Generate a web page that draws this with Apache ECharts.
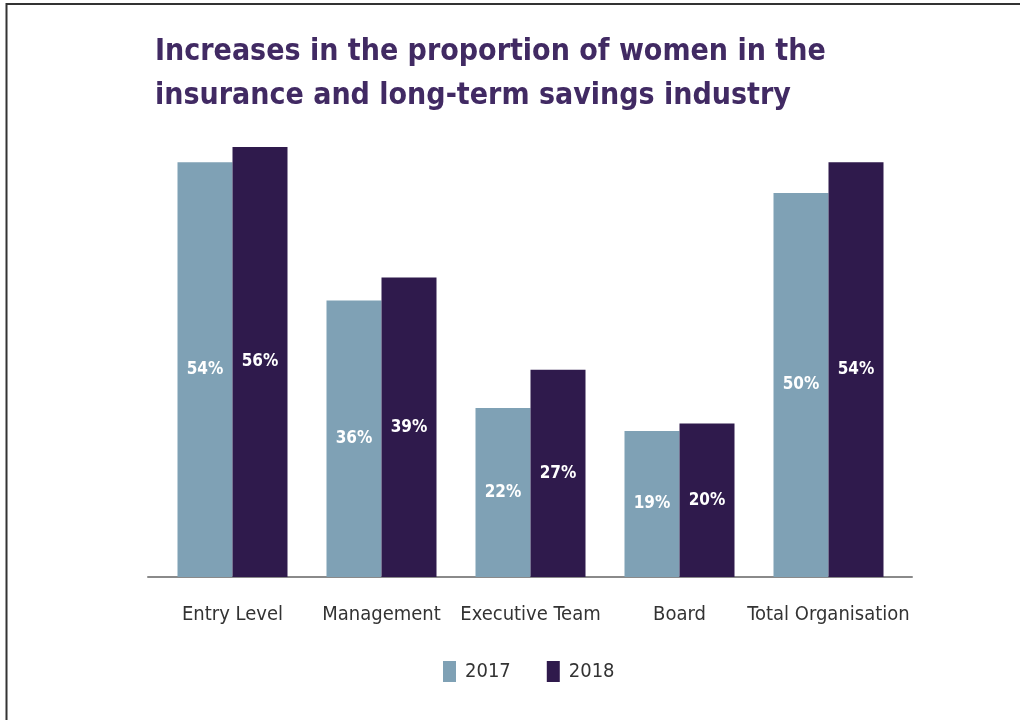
<!DOCTYPE html>
<html>
<head>
<meta charset="utf-8">
<script src="https://cdn.jsdelivr.net/npm/echarts@6/dist/echarts.min.js"></script>
<style>
html,body{margin:0;padding:0;background:#fff;}
#main{width:1020px;height:720px;}
</style>
</head>
<body>
<div id="main"></div>
<script>
const categories = ['Entry Level', 'Management', 'Executive Team', 'Board', 'Total Organisation'];
const values2017 = [54, 36, 22, 19, 50];
const values2018 = [56, 39, 27, 20, 54];
const seriesNames = ['2017', '2018'];
const titleText = 'Increases in the proportion of women in the\ninsurance and long-term savings industry';

const FONT = "'DejaVu Sans Condensed', 'Open Sans', sans-serif";
const chart = echarts.init(document.getElementById('main'), null, {renderer: 'canvas'});
const labelStyle = {
  show: true, position: 'inside', formatter: '{c}%',
  color: '#fff', fontSize: 17, fontWeight: 'bold', fontFamily: FONT
};
chart.setOption({
  backgroundColor: '#fff',
  animation: false,
  title: {
    text: titleText, left: 150, top: 25,
    textStyle: {color: '#412a63', fontSize: 30, fontWeight: 'bold', lineHeight: 44, fontFamily: FONT}
  },
  legend: {
    data: seriesNames, bottom: 38, left: 443, padding: 0, itemWidth: 13, itemHeight: 21, itemGap: 36,
    icon: 'rect',
    textStyle: {color: '#333', fontSize: 20, fontFamily: FONT, padding: [0, 0, 0, 4]}
  },
  grid: [
    {left: 158, right: 117, top: 60, bottom: 143, containLabel: false},
    {left: 148, right: 108, top: 60, bottom: 143, containLabel: false}
  ],
  xAxis: [
    {
      type: 'category', data: categories, gridIndex: 0,
      axisLine: {show: false}, axisTick: {show: false},
      axisLabel: {color: '#333', fontSize: 20, margin: 28, interval: 0, fontFamily: FONT}
    },
    {
      type: 'value', gridIndex: 1, min: 0, max: 1,
      axisLine: {show: true, lineStyle: {color: '#8a8a8a', width: 2}},
      axisTick: {show: false}, axisLabel: {show: false}, splitLine: {show: false}
    }
  ],
  yAxis: [
    {type: 'value', gridIndex: 0, min: 0, max: 56 * (517 / 430), show: false},
    {type: 'value', gridIndex: 1, show: false}
  ],
  series: [
    {
      name: seriesNames[0], type: 'bar', data: values2017, barWidth: 55, barGap: '0%',
      itemStyle: {color: '#7fa1b5'}, label: labelStyle
    },
    {
      name: seriesNames[1], type: 'bar', data: values2018, barWidth: 55, barGap: '0%',
      itemStyle: {color: '#2f1a4c'}, label: labelStyle
    }
  ],
  graphic: [
    {type: 'rect', shape: {x: 6.5, y: 4, width: 1100, height: 800}, style: {fill: 'none', stroke: '#333', lineWidth: 2}, silent: true}
  ]
});
</script>
</body>
</html>
